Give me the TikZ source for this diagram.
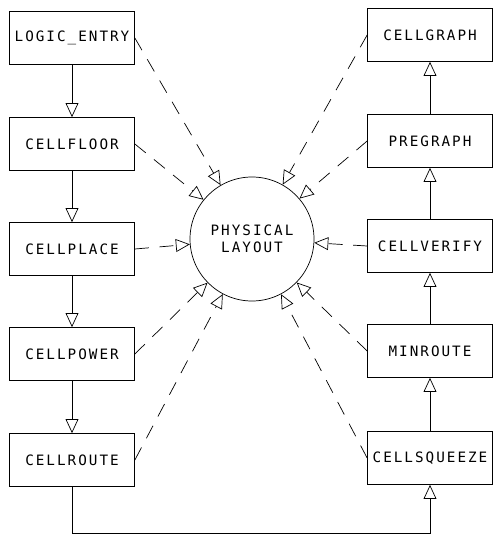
\documentclass[tikz,border=0pt]{standalone}
\usepackage{fontspec}
\newfontfamily\plotfont[LetterSpace=14]{DejaVu Sans Mono}
\usepackage{tikz}
\usetikzlibrary{arrows.meta}

\begin{document}
\begin{tikzpicture}[x=0.03cm,y=-0.03cm,font=\plotfont\fontsize{12.2}{15}\selectfont,
  prog/.style={draw,line width=0.6pt,minimum width=3.75cm,minimum height=1.59cm,inner sep=1pt},
  flow/.style={line width=0.6pt,-{Triangle[open,length=12pt,width=11pt]}},
  link/.style={flow,dash pattern=on 12pt off 9pt}]
  \useasboundingbox (0,0) rectangle (494,539);
  % the layout data base
  \node[circle,draw,line width=0.6pt,minimum size=3.72cm,inner sep=0pt,align=center] (phys) at (252,239)
    {PHYSICAL\\LAYOUT};
  % programs, left and right
  \foreach \n/\y/\t in {entry/38/LOGIC\_ENTRY,floor/144/CELLFLOOR,place/249/CELLPLACE,power/354/CELLPOWER,route/460/CELLROUTE} {
    \node[prog] (\n) at (72,\y) {\t};
    \draw[link] (\n.east) -- (phys);
  }
  \foreach \n/\y/\t in {graph/35/CELLGRAPH,pregraph/141/PREGRAPH,verify/246/CELLVERIFY,minroute/351/MINROUTE,squeeze/458/CELLSQUEEZE} {
    \node[prog] (\n) at (430,\y) {\t};
    \draw[link] (\n.west) -- (phys);
  }
  % order of the runs
  \foreach \a/\b in {entry/floor,floor/place,place/power,power/route,squeeze/minroute,minroute/verify,verify/pregraph,pregraph/graph}
    \draw[flow] (\a) -- (\b);
  \coordinate (bend) at (430,533);
  \draw[flow] (route.south) |- (bend) -- (squeeze.south);
\end{tikzpicture}
\end{document}
